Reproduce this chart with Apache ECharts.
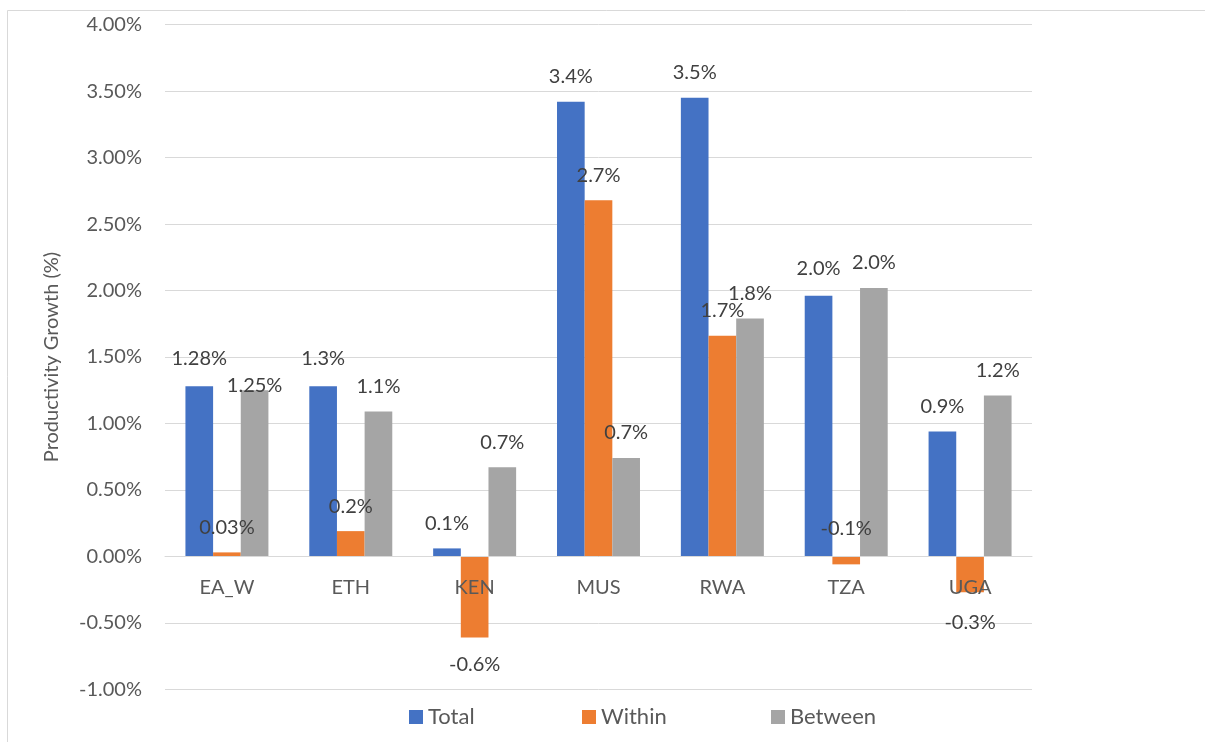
<!DOCTYPE html>
<html>
<head>
<meta charset="utf-8">
<script src="https://cdn.jsdelivr.net/npm/echarts@6/dist/echarts.min.js"></script>
<style>
html,body{margin:0;padding:0;background:#fff;}
#c{width:1205px;height:742px;}
</style>
</head>
<body>
<div id="c"></div>
<script>
const categories = ['EA_W', 'ETH', 'KEN', 'MUS', 'RWA', 'TZA', 'UGA'];
const seriesNames = ['Total', 'Within', 'Between'];
const totalValues = [1.28, 1.28, 0.06, 3.42, 3.45, 1.96, 0.94];
const withinValues = [0.03, 0.19, -0.61, 2.68, 1.66, -0.06, -0.27];
const betweenValues = [1.25, 1.09, 0.67, 0.74, 1.79, 2.02, 1.21];
const totalLabels = ['1.28%', '1.3%', '0.1%', '3.4%', '3.5%', '2.0%', '0.9%'];
const withinLabels = ['0.03%', '0.2%', '-0.6%', '2.7%', '1.7%', '-0.1%', '-0.3%'];
const betweenLabels = ['1.25%', '1.1%', '0.7%', '0.7%', '1.8%', '2.0%', '1.2%'];
const yTicks = { min: -1, max: 4, interval: 0.5 };

const colors = ['#4472C4', '#ED7D31', '#A5A5A5'];
const FONT = 'Lato';

// label placement tweaks (style, not data)
const labelTweaks = {
  Total:   { 0: { distance: 18 }, 1: { distance: 18 }, 5: { distance: 17 } },
  Within:  { 2: { position: 'bottom', distance: 17 }, 5: { position: 'top', distance: 18 }, 6: { position: 'bottom', distance: 20 } },
  Between: { 0: { distance: -5 } }
};

function buildSeries(name, values, labels, color) {
  return {
    name: name,
    type: 'bar',
    barGap: '0%',
    barCategoryGap: '33%',
    z: 2,
    itemStyle: { color: color },
    data: values.map((v, i) => {
      const tw = (labelTweaks[name] || {})[i] || {};
      return {
        value: v,
        label: Object.assign({
          show: true,
          position: 'top',
          distance: 15,
          formatter: labels[i],
          color: '#404040',
          fontFamily: FONT,
          fontSize: 20
        }, tw)
      };
    })
  };
}

const GRID_TOP = 24.7, GRID_BOTTOM = 52.7, H = 742;
const plotH = H - GRID_TOP - GRID_BOTTOM;
const zeroOffset = -plotH * (0 - yTicks.min) / (yTicks.max - yTicks.min);

const chart = echarts.init(document.getElementById('c'), null, { renderer: 'canvas' });
const legendPos = [409, 582, 771];
chart.setOption({
  animation: false,
  backgroundColor: '#ffffff',
  graphic: [{
    type: 'rect',
    shape: { x: 7.5, y: 10.5, width: 1400, height: 900 },
    style: { fill: 'none', stroke: '#d9d9d9', lineWidth: 1 },
    silent: true,
    z: -10
  }],
  grid: { left: 165, right: 173, top: GRID_TOP, bottom: GRID_BOTTOM, containLabel: false },
  legend: seriesNames.map((n, i) => ({
    data: [n],
    left: legendPos[i],
    top: 706,
    itemWidth: 14,
    itemHeight: 14,
    itemGap: 0,
    padding: 0,
    icon: 'rect',
    textStyle: { color: '#595959', fontFamily: FONT, fontSize: 22 },
    selectedMode: false
  })),
  xAxis: {
    type: 'category',
    data: categories,
    position: 'bottom',
    offset: zeroOffset,
    z: 10,
    axisLine: { onZero: false, lineStyle: { color: '#d9d9d9', width: 1 } },
    axisTick: { show: false },
    axisLabel: { color: '#595959', fontFamily: FONT, fontSize: 20, margin: 21 }
  },
  yAxis: {
    type: 'value',
    min: yTicks.min,
    max: yTicks.max,
    interval: yTicks.interval,
    name: 'Productivity Growth (%)',
    nameLocation: 'middle',
    nameGap: 103,
    nameRotate: 90,
    nameTextStyle: { color: '#595959', fontFamily: FONT, fontSize: 20 },
    axisLine: { show: false },
    axisTick: { show: false },
    splitLine: { lineStyle: { color: '#d9d9d9', width: 1 } },
    axisLabel: {
      color: '#595959', fontFamily: FONT, fontSize: 20, margin: 23,
      formatter: v => v.toFixed(2) + '%'
    }
  },
  series: [
    buildSeries('Total', totalValues, totalLabels, colors[0]),
    buildSeries('Within', withinValues, withinLabels, colors[1]),
    buildSeries('Between', betweenValues, betweenLabels, colors[2])
  ]
});
</script>
</body>
</html>
